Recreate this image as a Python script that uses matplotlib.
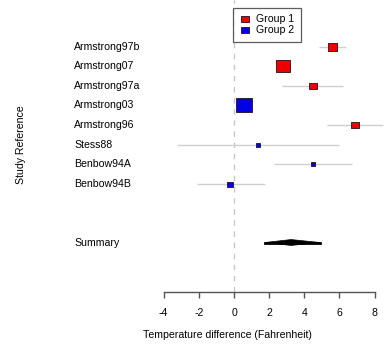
import matplotlib
matplotlib.use("Agg")
import matplotlib.pyplot as plt
from matplotlib.path import Path
from matplotlib.lines import Line2D
from matplotlib.patches import Polygon

plt.rcParams['font.family'] = ['Liberation Sans', 'DejaVu Sans']

# ---- data ----
studies = ["Armstrong97b", "Armstrong07", "Armstrong97a", "Armstrong03",
           "Armstrong96", "Stess88", "Benbow94A", "Benbow94B"]
estimates = [5.57, 2.76, 4.48, 0.57, 6.88, 1.38, 4.48, -0.21]
ci_lower = [4.85, 2.40, 2.71, 0.15, 5.27, -3.22, 2.26, -2.09]
ci_upper = [6.37, 3.10, 6.22, 1.00, 8.48, 5.99, 6.73, 1.76]
groups = ["Group 1", "Group 1", "Group 1", "Group 2",
          "Group 1", "Group 2", "Group 2", "Group 2"]
summary_label = "Summary"
summary_est = 3.25
summary_lo = 1.76
summary_hi = 4.89
xticks = [-4, -2, 0, 2, 4, 6, 8]

# ---- styles ----
box_px = [9, 14, 7, 16, 7, 4.5, 5, 6]        # box widths (pixels), by weight
group_colors = {"Group 1": "#ee0000", "Group 2": "#0000e6"}
summary_row = len(studies) + 2
FS = 7.6

fig = plt.figure(figsize=(3.85, 3.44), dpi=100)
px_per_unit = 17.58
x_left = -234 / px_per_unit
x_right = (385 - 234) / px_per_unit
row_px = 19.6
ax = fig.add_axes([0, (344 - 292) / 344, 1, 292 / 344])
ax.set_xlim(x_left, x_right)
ax.set_ylim((292 - 46.5) / row_px, -46.5 / row_px)

rect = Path([(-1.2, -1), (1.2, -1), (1.2, 1), (-1.2, 1), (-1.2, -1)],
            [Path.MOVETO, Path.LINETO, Path.LINETO, Path.LINETO, Path.CLOSEPOLY])

# zero reference line
ax.axvline(0, color="#c8c8c8", lw=1.0, linestyle=(0, (4, 4)), zorder=1)

for i, (name, est, lo, hi, g, bp) in enumerate(
        zip(studies, estimates, ci_lower, ci_upper, groups, box_px)):
    ax.plot([lo, hi], [i, i], color="#cfcfcf", lw=1.0, zorder=2,
            solid_capstyle="butt")
    ax.plot([est], [i], marker=rect, markersize=bp * 0.72,
            markerfacecolor=group_colors[g], markeredgecolor="#2a0a20",
            markeredgewidth=0.6, linestyle="none", zorder=3)
    ax.text(-9.09, i, name, ha="left", va="center", fontsize=FS)

# summary diamond
h = 0.15
ax.add_patch(Polygon([(summary_lo, summary_row), (summary_est, summary_row - h),
                      (summary_hi, summary_row), (summary_est, summary_row + h)],
                     closed=True, facecolor="black", edgecolor="black", lw=0.5,
                     zorder=3))
ax.plot([summary_lo, summary_hi], [summary_row, summary_row], color="black",
        lw=2.0, zorder=3)
ax.text(-9.09, summary_row, summary_label, ha="left", va="center", fontsize=FS)

# axes styling
for s in ["top", "left", "right"]:
    ax.spines[s].set_visible(False)
ax.spines["bottom"].set_bounds(-4, 8)
ax.spines["bottom"].set_color("#555555")
ax.spines["bottom"].set_linewidth(1.0)
ax.set_xticks(xticks)
ax.set_xticklabels([str(t) for t in xticks])
ax.tick_params(axis="x", direction="out", length=4, width=1.0,
               color="#555555", labelsize=FS, pad=7.5)
ax.set_yticks([])
ax.patch.set_visible(False)

fig.text(143 / 385, 1 - 335.5 / 344, "Temperature difference (Fahrenheit)",
         ha="left", va="center", fontsize=FS)
fig.text(21 / 385, 1 - 145 / 344, "Study Reference", rotation=90,
         ha="center", va="center", fontsize=FS)

handles = [Line2D([], [], marker=rect, markersize=7 * 0.72, linestyle="none",
                  markerfacecolor=group_colors[g], markeredgecolor="#2a0a20",
                  markeredgewidth=0.6, label=g)
           for g in ["Group 1", "Group 2"]]
leg = fig.legend(handles=handles, loc="upper left",
                 bbox_to_anchor=(233 / 385, 1 - 8 / 344), borderaxespad=0,
                 fontsize=FS, frameon=True, fancybox=False, handlelength=1.0,
                 handletextpad=0.6, borderpad=0.6, labelspacing=0.1)
leg.get_frame().set_edgecolor("#333333")
leg.get_frame().set_linewidth(0.9)

fig.savefig("out.png", dpi=100)
